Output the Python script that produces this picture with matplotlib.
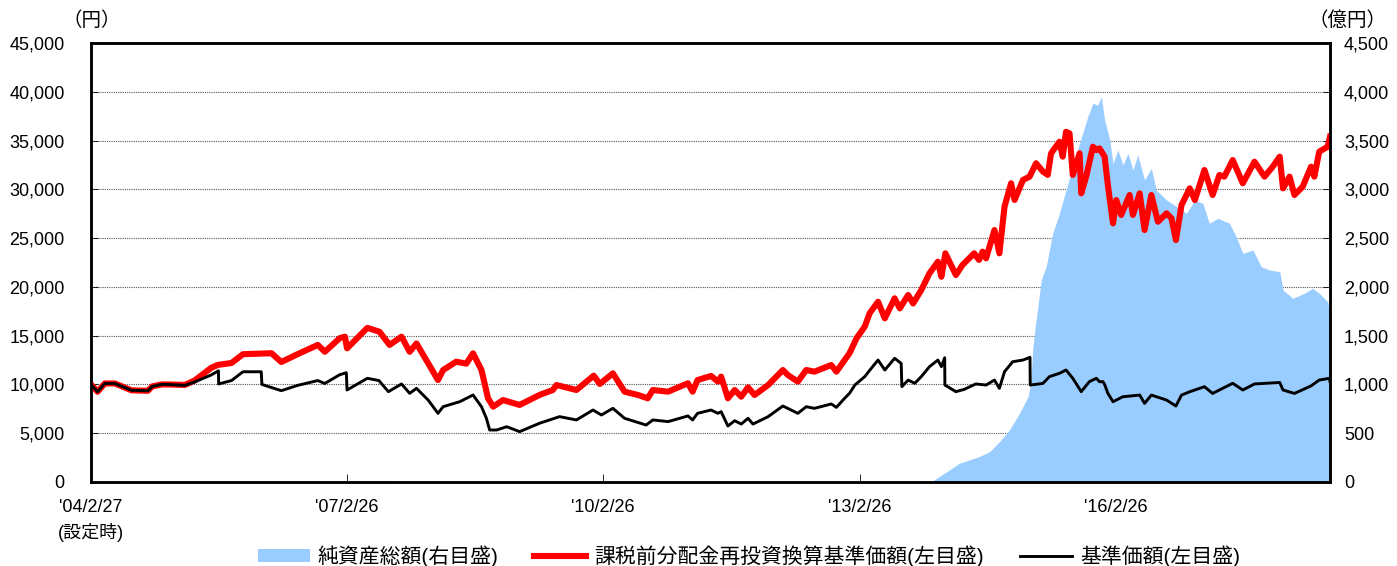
import matplotlib
matplotlib.use("Agg")
import matplotlib.pyplot as plt
import matplotlib.patches as mpatches
import pandas as pd

plt.rcParams['font.family'] = ['Liberation Sans', 'Noto Sans CJK JP']

# 基準価額 (円)
nav_dates = ['2004-02-27', '2004-03-26', '2004-04-26', '2004-06-08', '2004-08-18', '2004-10-27',
             '2004-11-15', '2004-12-26', '2005-01-21', '2005-04-03', '2005-05-15', '2005-07-25',
             '2005-08-25', '2005-08-26', '2005-10-20', '2005-12-08', '2006-02-24', '2006-02-27',
             '2006-05-21', '2006-07-29', '2006-10-24', '2006-11-23', '2007-01-26', '2007-02-23',
             '2007-02-26', '2007-05-24', '2007-07-12', '2007-08-22', '2007-10-17', '2007-11-21',
             '2007-12-20', '2008-02-08', '2008-03-21', '2008-04-12', '2008-06-22', '2008-08-18',
             '2008-09-23', '2008-10-14', '2008-10-28', '2008-11-27', '2009-01-09', '2009-03-05',
             '2009-05-29', '2009-08-23', '2009-11-03', '2010-01-13', '2010-02-18', '2010-04-08',
             '2010-05-28', '2010-08-28', '2010-09-26', '2010-11-30', '2011-02-23', '2011-03-15',
             '2011-04-05', '2011-06-02', '2011-07-01', '2011-07-15', '2011-08-13', '2011-09-11',
             '2011-10-09', '2011-11-07', '2011-11-28', '2012-02-01', '2012-04-04', '2012-06-07',
             '2012-07-13', '2012-08-17', '2012-10-28', '2012-11-19', '2012-12-24', '2013-01-14',
             '2013-02-06', '2013-03-20', '2013-04-17', '2013-05-16', '2013-06-14', '2013-07-26',
             '2013-08-23', '2013-08-26', '2013-09-22', '2013-10-20', '2013-11-17', '2013-12-22',
             '2014-01-27', '2014-02-11', '2014-02-25', '2014-02-26', '2014-04-14', '2014-05-20',
             '2014-07-08', '2014-08-21', '2014-09-26', '2014-10-17', '2014-11-08', '2014-12-13',
             '2015-01-26', '2015-02-25', '2015-02-26', '2015-04-21', '2015-05-19', '2015-07-01',
             '2015-07-29', '2015-08-27', '2015-10-02', '2015-11-06', '2015-12-06', '2015-12-19',
             '2016-01-03', '2016-01-10', '2016-01-24', '2016-02-15', '2016-03-28', '2016-06-08',
             '2016-06-29', '2016-07-28', '2016-10-01', '2016-11-10', '2016-12-04', '2017-01-08',
             '2017-03-12', '2017-04-16', '2017-07-11', '2017-08-23', '2017-10-12', '2018-01-28',
             '2018-02-11', '2018-04-01', '2018-06-11', '2018-07-16', '2018-08-29', '2018-08-31']
nav = [10000, 9250, 10100, 10100, 9400, 9350,
       9800, 10000, 10000, 9900, 10250, 10970,
       11400, 10050, 10400, 11300, 11300, 10000,
       9360, 9900, 10400, 10100, 11000, 11200,
       9430, 10630, 10400, 9260, 10050, 9090,
       9600, 8400, 7040, 7720, 8230, 8920,
       7720, 6530, 5330, 5330, 5670, 5160,
       6020, 6700, 6360, 7380, 6870, 7550,
       6530, 5840, 6360, 6190, 6770, 6360,
       7040, 7380, 7040, 7210, 5740, 6280,
       5940, 6530, 5940, 6700, 7790, 7040,
       7720, 7550, 8000, 7650, 8580, 9090,
       9940, 10800, 11650, 12500, 11480, 12680,
       12160, 9770, 10450, 10120, 10800, 11820,
       12500, 11820, 12740, 9940, 9260, 9500,
       10050, 9940, 10450, 9600, 11310, 12330,
       12500, 12780, 9940, 10100, 10800, 11140,
       11480, 10630, 9260, 10290, 10630, 10280,
       10290, 10000, 9090, 8230, 8740, 8910,
       8060, 8910, 8400, 7790, 8910, 9250,
       9770, 9080, 10120, 9430, 10050, 10200,
       9430, 9080, 9850, 10450, 10630, 10300]

# 課税前分配金再投資換算基準価額 (円)
re_dates = ['2004-02-27', '2004-03-26', '2004-04-26', '2004-06-08', '2004-08-18', '2004-10-27',
            '2004-11-15', '2004-12-26', '2005-01-21', '2005-04-03', '2005-05-15', '2005-07-25',
            '2005-08-22', '2005-10-20', '2005-12-08', '2006-04-09', '2006-05-21', '2006-07-29',
            '2006-10-24', '2006-11-23', '2007-01-26', '2007-02-17', '2007-02-26', '2007-05-24',
            '2007-07-15', '2007-08-27', '2007-10-17', '2007-11-21', '2007-12-20', '2008-01-31',
            '2008-03-21', '2008-04-12', '2008-06-07', '2008-07-20', '2008-08-18', '2008-09-23',
            '2008-10-21', '2008-11-12', '2008-12-24', '2009-03-05', '2009-05-29', '2009-07-25',
            '2009-08-10', '2009-11-03', '2010-01-16', '2010-02-11', '2010-04-08', '2010-05-28',
            '2010-07-24', '2010-09-04', '2010-09-26', '2010-11-30', '2011-02-23', '2011-03-15',
            '2011-04-05', '2011-06-02', '2011-07-01', '2011-07-15', '2011-08-13', '2011-09-11',
            '2011-10-09', '2011-11-07', '2011-12-05', '2012-02-01', '2012-04-04', '2012-04-25',
            '2012-06-07', '2012-07-13', '2012-08-17', '2012-10-28', '2012-11-19', '2012-12-24',
            '2013-01-14', '2013-02-13', '2013-03-20', '2013-04-10', '2013-05-16', '2013-06-14',
            '2013-07-26', '2013-08-17', '2013-09-22', '2013-10-13', '2013-11-17', '2013-12-22',
            '2014-01-27', '2014-02-11', '2014-02-28', '2014-04-14', '2014-05-12', '2014-07-01',
            '2014-07-22', '2014-08-06', '2014-08-21', '2014-09-26', '2014-10-17', '2014-11-08',
            '2014-12-06', '2014-12-21', '2015-01-26', '2015-02-23', '2015-03-23', '2015-04-21',
            '2015-05-12', '2015-05-26', '2015-07-01', '2015-07-15', '2015-07-29', '2015-08-13',
            '2015-08-27', '2015-09-25', '2015-10-02', '2015-10-23', '2015-11-21', '2015-12-06',
            '2015-12-19', '2016-01-10', '2016-01-24', '2016-02-15', '2016-02-29', '2016-03-21',
            '2016-04-26', '2016-05-10', '2016-06-08', '2016-06-29', '2016-07-28', '2016-08-25',
            '2016-10-01', '2016-10-22', '2016-11-10', '2016-12-04', '2017-01-08', '2017-01-30',
            '2017-03-12', '2017-04-16', '2017-05-15', '2017-06-05', '2017-07-11', '2017-08-23',
            '2017-10-12', '2017-11-24', '2017-12-29', '2018-01-28', '2018-02-11', '2018-03-11',
            '2018-04-01', '2018-05-06', '2018-06-11', '2018-06-25', '2018-07-16', '2018-08-21',
            '2018-08-31']
reinvest = [10000, 9250, 10100, 10100, 9400, 9350,
            9800, 10000, 10000, 9950, 10400, 11700,
            12000, 12200, 13100, 13200, 12300, 13100,
            14050, 13350, 14750, 14900, 13700, 15800,
            15400, 14050, 14900, 13350, 14200, 12500,
            10450, 11480, 12330, 12130, 13190, 11480,
            8580, 7720, 8400, 7900, 8920, 9430,
            9940, 9430, 10900, 10050, 11140, 9260,
            8920, 8580, 9430, 9260, 10120, 9260,
            10450, 10870, 10290, 10800, 8580, 9430,
            8750, 9700, 8920, 9940, 11480, 10970,
            10290, 11480, 11310, 11990, 11310, 12500,
            13200, 14730, 15920, 17290, 18480, 16780,
            18830, 17800, 19170, 18300, 19680, 21390,
            22580, 21040, 23440, 21220, 22240, 23440,
            22760, 23610, 22930, 25830, 23440, 28220,
            30620, 28910, 30960, 31300, 32670, 31820,
            31480, 33690, 34880, 33350, 35900, 35730,
            31470, 33690, 29590, 31300, 34370, 34030,
            34200, 33350, 30440, 26510, 28900, 27370,
            29420, 27370, 29590, 25830, 29420, 26680,
            27540, 27030, 24800, 28390, 30100, 28900,
            31980, 29420, 31470, 31300, 33000, 30620,
            32830, 31300, 32320, 33350, 30100, 31300,
            29420, 30270, 32320, 31300, 33860, 34370,
            35400]

# 純資産総額 (億円)
aum_dates = ['2004-02-27', '2005-06-30', '2006-06-30', '2007-06-29', '2008-06-30', '2009-06-30',
             '2013-12-31', '2014-01-10', '2014-03-17', '2014-04-29', '2014-07-22', '2014-09-05',
             '2014-10-17', '2014-11-29', '2015-01-11', '2015-02-16', '2015-03-01', '2015-03-08',
             '2015-03-20', '2015-04-14', '2015-05-05', '2015-06-02', '2015-07-01', '2015-07-29',
             '2015-08-27', '2015-09-25', '2015-10-30', '2015-11-21', '2015-12-12', '2015-12-27',
             '2016-01-10', '2016-02-01', '2016-02-15', '2016-03-07', '2016-03-28', '2016-04-19',
             '2016-05-10', '2016-05-31', '2016-06-29', '2016-07-28', '2016-08-18', '2016-10-01',
             '2016-11-13', '2016-12-25', '2017-01-30', '2017-03-05', '2017-04-02', '2017-05-08',
             '2017-06-27', '2017-07-26', '2017-08-23', '2017-10-05', '2017-11-10', '2017-12-15',
             '2018-01-28', '2018-02-11', '2018-03-25', '2018-05-13', '2018-06-18', '2018-07-16',
             '2018-08-21', '2018-08-31']
aum = [0, 5, 12, 15, 10, 3,
       0, 20, 123, 192, 260, 311,
       413, 533, 704, 874, 1012, 1353,
       1600, 2070, 2207, 2549, 2754, 2993,
       3232, 3472, 3744, 3881, 3864, 3950,
       3711, 3506, 3267, 3403, 3250, 3369,
       3198, 3352, 3096, 3215, 2993, 2890,
       2822, 2754, 2890, 2856, 2652, 2703,
       2652, 2514, 2344, 2378, 2207, 2173,
       2156, 1968, 1883, 1934, 1985, 1934,
       1848, 1729]

tick_dates = ['2004-02-27', '2007-02-26', '2010-02-26', '2013-02-26', '2016-02-26']
tick_labels = ["'04/2/27\n(設定時)", "'07/2/26", "'10/2/26", "'13/2/26", "'16/2/26"]

fig = plt.figure(figsize=(13.97, 5.66), dpi=100)
ax2 = fig.add_axes([0.06514, 0.14841, 0.88690, 0.77562])
ax = ax2.twinx()
ax.yaxis.tick_left()
ax2.yaxis.tick_right()
ax.set_zorder(ax2.get_zorder() + 1)
ax.patch.set_visible(False)

# 純資産総額は右軸、グリッドはその下に
ax2.fill_between(pd.to_datetime(aum_dates), 0, aum, color='#99CCFF', lw=0, zorder=2)
ax2.set_ylim(0, 4500)
ax2.set_yticks(range(0, 4501, 500))
ax2.set_yticklabels([f'{v:,}' for v in range(0, 4501, 500)])
ax2.set_axisbelow(True)
ax2.grid(axis='y', color='#555555', linestyle=(0, (1, 1)), linewidth=0.8)

ax.plot(pd.to_datetime(re_dates), reinvest, color='#FF0000', lw=4.4, solid_joinstyle='round')
ax.plot(pd.to_datetime(nav_dates), nav, color='black', lw=2.1)
ax.set_ylim(0, 45000)
ax.set_yticks(range(0, 45001, 5000))
ax.set_yticklabels([f'{v:,}' for v in range(0, 45001, 5000)])

ax2.set_xlim(pd.Timestamp('2004-02-27'), pd.Timestamp('2018-08-31'))
ax2.set_xticks(pd.to_datetime(tick_dates))
ax2.set_xticklabels(tick_labels, linespacing=1.5)

ax2.tick_params(axis='x', direction='in', length=6, width=0.6, pad=12, labelsize=13)
ax2.tick_params(axis='y', direction='in', length=5, width=0.6, pad=10, labelsize=13)
ax.tick_params(axis='y', direction='in', length=5, width=0.6, pad=19, labelsize=13)
for a in (ax, ax2):
    for s in a.spines.values():
        s.set_linewidth(1.8)
        s.set_color('black')

fig.text(0.045, 0.963, '（円）', fontsize=14, ha='left', va='center')
fig.text(0.937, 0.963, '（億円）', fontsize=14, ha='left', va='center')

handles = [mpatches.Patch(color='#99CCFF', lw=0),
           plt.Line2D([], [], color='#FF0000', lw=4.4),
           plt.Line2D([], [], color='black', lw=2.1)]
labels = ['純資産総額(右目盛)', '課税前分配金再投資換算基準価額(左目盛)', '基準価額(左目盛)']
fig.legend(handles, labels, loc='center', bbox_to_anchor=(0.536, 0.018), ncol=3,
           frameon=False, fontsize=15, handlelength=2.5, handleheight=0.6,
           handletextpad=0.4, columnspacing=1.7, borderaxespad=0, borderpad=0)

fig.savefig('out.png', dpi=100)
